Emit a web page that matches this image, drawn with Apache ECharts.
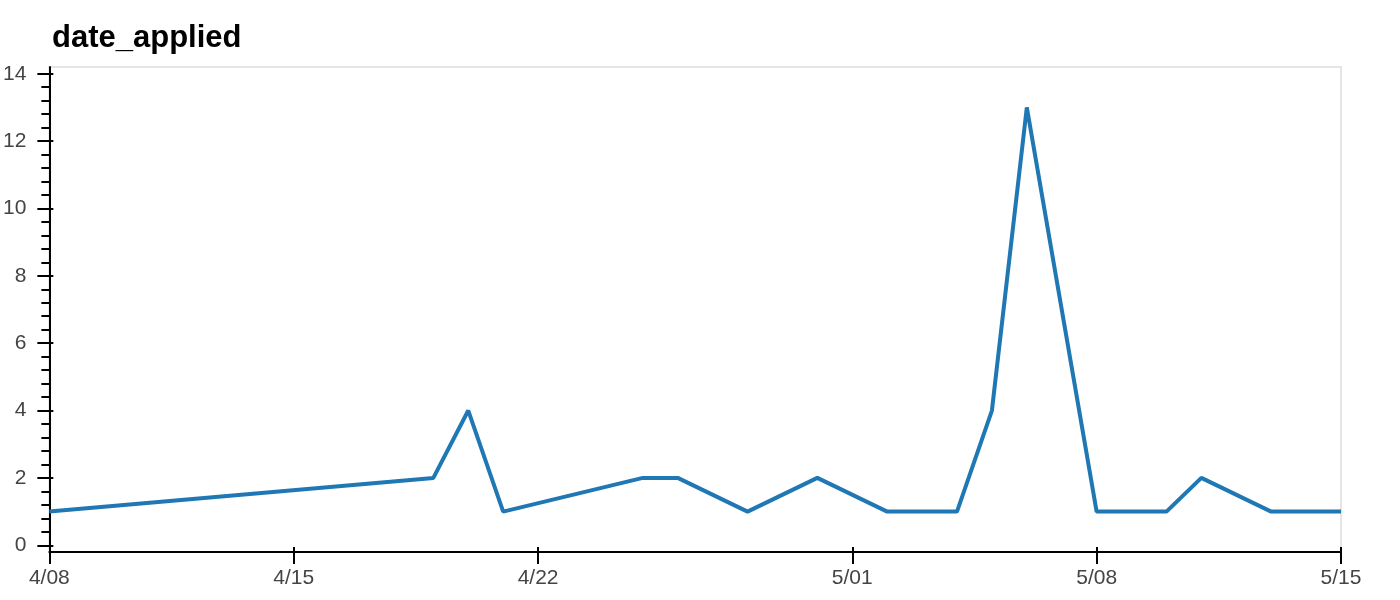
<!DOCTYPE html>
<html>
<head>
<meta charset="utf-8">
<script src="https://cdn.jsdelivr.net/npm/echarts@6/dist/echarts.min.js"></script>
<style>
html,body{margin:0;padding:0;background:#fff;}
#chart{width:1400px;height:600px;}
</style>
</head>
<body>
<div id="chart"></div>
<script>
const title = 'date_applied';
const dates = ['2024-04-08','2024-04-19','2024-04-20','2024-04-21','2024-04-25','2024-04-26','2024-04-28','2024-04-30','2024-05-02','2024-05-04','2024-05-05','2024-05-06','2024-05-08','2024-05-10','2024-05-11','2024-05-13','2024-05-15'];
const counts = [1,2,4,1,2,2,1,2,1,1,4,13,1,1,2,1,1];
const xTickDates = ['2024-04-08','2024-04-15','2024-04-22','2024-05-01','2024-05-08','2024-05-15'];
const yTicks = [0,2,4,6,8,10,12,14];
const yMinorTicks = [0.4,0.8,1.2,1.6,2.4,2.8,3.2,3.6,4.4,4.8,5.2,5.6,6.4,6.8,7.2,7.6,8.4,8.8,9.2,9.6,10.4,10.8,11.2,11.6,12.4,12.8,13.2,13.6];

function ts(s){const p=s.split('-').map(Number);return Date.UTC(p[0],p[1]-1,p[2]);}
function fmt(v){const d=new Date(v);const m=d.getUTCMonth()+1;const dd=d.getUTCDate();return m+'/'+(dd<10?'0'+dd:dd);}

const xTicks = xTickDates.map(ts);
const xMin = ts(dates[0]), xMax = ts(dates[dates.length-1]);
const yMin = -0.2, yMax = 14.2;
const lbl = {color:'#444', fontSize:21, fontFamily:'Liberation Sans, Arial, sans-serif'};
const gridTop = 67, gridBottom = 48, chartH = 600;
const tickOut = 12, tickIn = 5;

const chart = echarts.init(document.getElementById('chart'));
const baseX = {type:'value', min:xMin, max:xMax, splitLine:{show:false}};
const baseY = {type:'value', min:yMin, max:yMax, position:'left', splitLine:{show:false}};
const hiddenLine = {show:false, onZero:false};
chart.setOption({
  animation:false,
  title:{text:title, left:47, top:18, textStyle:{fontSize:31, fontWeight:'bold', color:'#000', fontFamily:'Liberation Sans, Arial, sans-serif'}},
  grid:{left:49, right:59, top:gridTop, bottom:gridBottom, show:true, borderColor:'#e5e5e5', borderWidth:2, containLabel:false},
  xAxis:[
    Object.assign({}, baseX, {
      position:'bottom',
      axisLine:{show:true, onZero:false, lineStyle:{color:'#000', width:2}},
      axisTick:{show:false},
      axisLabel:Object.assign({show:true, customValues:xTicks, margin:16, formatter:fmt}, lbl)
    }),
    Object.assign({}, baseX, {
      position:'top',
      offset:-(chartH - gridTop - gridBottom + tickOut),
      axisLine:hiddenLine,
      axisTick:{show:true, customValues:xTicks, length:tickOut + tickIn, inside:false, lineStyle:{color:'#000', width:2}},
      axisLabel:{show:false}
    })
  ],
  yAxis:[
    Object.assign({}, baseY, {
      axisLine:{show:true, onZero:false, lineStyle:{color:'#000', width:2}},
      axisTick:{show:true, customValues:yTicks, length:tickOut, inside:false, lineStyle:{color:'#000', width:2}},
      axisLabel:Object.assign({show:true, customValues:yTicks, margin:23}, lbl)
    }),
    Object.assign({}, baseY, {
      axisLine:hiddenLine,
      axisTick:{show:true, customValues:yTicks, length:4, inside:true, lineStyle:{color:'#000', width:2}},
      axisLabel:{show:false}
    }),
    Object.assign({}, baseY, {
      axisLine:hiddenLine,
      axisTick:{show:true, customValues:yMinorTicks, length:8, inside:false, lineStyle:{color:'#000', width:2}},
      axisLabel:{show:false}
    })
  ],
  series:[{
    type:'line',
    xAxisIndex:0, yAxisIndex:0,
    data:dates.map((d,i)=>[ts(d), counts[i]]),
    showSymbol:false,
    lineStyle:{color:'#1f77b4', width:4, join:'bevel'},
    itemStyle:{color:'#1f77b4'}
  }]
});
</script>
</body>
</html>
